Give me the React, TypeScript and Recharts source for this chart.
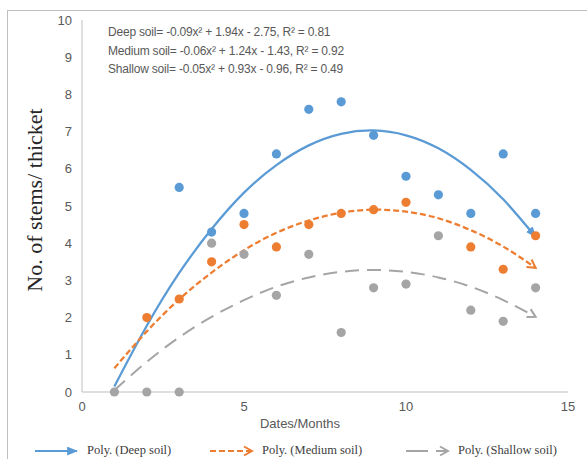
import { ComposedChart, Scatter, Line, XAxis, YAxis } from "recharts";

const months = [1, 2, 3, 4, 5, 6, 7, 8, 9, 10, 11, 12, 13, 14];

// observed stems per thicket
const deepX = [3, 4, 5, 6, 7, 8, 9, 10, 11, 12, 13, 14];
const deepSoil = [5.5, 4.3, 4.8, 6.4, 7.6, 7.8, 6.9, 5.8, 5.3, 4.8, 6.4, 4.8];
const mediumX = [2, 3, 4, 5, 6, 7, 8, 9, 10, 12, 13, 14];
const mediumSoil = [2.0, 2.5, 3.5, 4.5, 3.9, 4.5, 4.8, 4.9, 5.1, 3.9, 3.3, 4.2];
const shallowX = [1, 2, 3, 4, 5, 6, 7, 8, 9, 10, 11, 12, 13, 14];
const shallowSoil = [0, 0, 0, 4.0, 3.7, 2.6, 3.7, 1.6, 2.8, 2.9, 4.2, 2.2, 1.9, 2.8];

// trendline heights at each month
const deepTrend = [0.15, 1.78, 3.2, 4.38, 5.36, 6.1, 6.63, 6.94, 7.03, 6.9, 6.55, 5.97, 5.18, 4.17];
const mediumTrend = [0.64, 1.63, 2.49, 3.21, 3.81, 4.28, 4.61, 4.82, 4.9, 4.85, 4.67, 4.35, 3.91, 3.34];
const shallowTrend = [0.05, 0.81, 1.47, 2.02, 2.47, 2.83, 3.08, 3.23, 3.28, 3.23, 3.08, 2.83, 2.47, 2.02];

const xTicks = [0, 5, 10, 15];
const yTicks = [0, 1, 2, 3, 4, 5, 6, 7, 8, 9, 10];

const equations = [
  "Deep soil= -0.09x\u00b2 + 1.94x - 2.75, R\u00b2 = 0.81",
  "Medium soil= -0.06x\u00b2 + 1.24x - 1.43, R\u00b2 = 0.92",
  "Shallow soil= -0.05x\u00b2 + 0.93x - 0.96, R\u00b2 = 0.49",
];

const BLUE = "#5B9BD5";
const ORANGE = "#ED7D31";
const GRAY = "#A5A5A5";

const trendData = months.map((x, i) => ({
  x,
  deep: deepTrend[i],
  medium: mediumTrend[i],
  shallow: shallowTrend[i],
}));
const deepPts = deepX.map((x, i) => ({ x, y: deepSoil[i] }));
const mediumPts = mediumX.map((x, i) => ({ x, y: mediumSoil[i] }));
const shallowPts = shallowX.map((x, i) => ({ x, y: shallowSoil[i] }));

const dotShape = (color: string) => (p: any) =>
  <circle cx={p.cx} cy={p.cy} r={4.6} fill={color} />;

const tickStyle = { fill: "#595959", fontSize: 13, fontFamily: "Liberation Sans, sans-serif" };

function Markers() {
  return (
    <defs>
      <marker id="arrBlue" viewBox="0 0 10 8" refX="9" refY="4" markerWidth="11" markerHeight="9" markerUnits="userSpaceOnUse" orient="auto">
        <path d="M0,0 L10,4 L0,8 z" fill={BLUE} />
      </marker>
      <marker id="arrOrange" viewBox="0 0 12 12" refX="10" refY="6" markerWidth="12" markerHeight="12" markerUnits="userSpaceOnUse" orient="auto">
        <path d="M2,1.5 L10,6 L2,10.5" fill="none" stroke={ORANGE} strokeWidth={2} />
      </marker>
      <marker id="arrGray" viewBox="0 0 12 12" refX="10" refY="6" markerWidth="12" markerHeight="12" markerUnits="userSpaceOnUse" orient="auto">
        <path d="M2,1.5 L10,6 L2,10.5" fill="none" stroke={GRAY} strokeWidth={2} />
      </marker>
    </defs>
  );
}

function LegendItem({ left, color, dash, marker, label }: any) {
  return (
    <div style={{ position: "absolute", left, top: 443, display: "flex", alignItems: "center", whiteSpace: "nowrap" }}>
      <svg width={48} height={14}>
        <Markers />
        <line x1={2} y1={7} x2={44} y2={7} stroke={color} strokeWidth={2} strokeDasharray={dash} markerEnd={`url(#${marker})`} />
      </svg>
      <span style={{ marginLeft: 6, fontFamily: "Liberation Serif, serif", fontSize: 12.5, color: "#404040" }}>{label}</span>
    </div>
  );
}

export default function App() {
  return (
    <div style={{ position: "absolute", left: 0, top: 0, width: 587, height: 459, overflow: "hidden", background: "#fff" }}>
      <ComposedChart width={587} height={459} margin={{ top: 20, right: 19, bottom: 37, left: 0 }}>
        <Markers />
        <XAxis
          type="number"
          dataKey="x"
          domain={[0, 15]}
          ticks={xTicks}
          height={30}
          tick={tickStyle}
          tickLine={false}
          tickSize={8}
          axisLine={{ stroke: "#BFBFBF" }}
        />
        <YAxis
          type="number"
          dataKey="y"
          domain={[0, 10]}
          ticks={yTicks}
          width={82}
          tick={tickStyle}
          tickLine={false}
          tickSize={8}
          axisLine={{ stroke: "#BFBFBF" }}
        />
        <Scatter data={deepPts} dataKey="y" shape={dotShape(BLUE)} isAnimationActive={false} />
        <Scatter data={mediumPts} dataKey="y" shape={dotShape(ORANGE)} isAnimationActive={false} />
        <Scatter data={shallowPts} dataKey="y" shape={dotShape(GRAY)} isAnimationActive={false} />
        <Line data={trendData} dataKey="deep" type="natural" stroke={BLUE} strokeWidth={2.25} dot={false} markerEnd="url(#arrBlue)" isAnimationActive={false} />
        <Line data={trendData} dataKey="medium" type="natural" stroke={ORANGE} strokeWidth={2.25} strokeDasharray="6 3" dot={false} markerEnd="url(#arrOrange)" isAnimationActive={false} />
        <Line data={trendData} dataKey="shallow" type="natural" stroke={GRAY} strokeWidth={2} strokeDasharray="14 8" dot={false} markerEnd="url(#arrGray)" isAnimationActive={false} />
      </ComposedChart>
      <div style={{ position: "absolute", left: 7, top: 10, width: 620, height: 500, border: "1px solid #BFBFBF", pointerEvents: "none" }} />
      {equations.map((t, i) => (
        <div key={t} style={{ position: "absolute", left: 108, top: 25 + i * 18.5, fontFamily: "Liberation Sans, sans-serif", fontSize: 12, letterSpacing: -0.2, color: "#595959", whiteSpace: "nowrap" }}>
          {t}
        </div>
      ))}
      <div style={{ position: "absolute", left: 35, top: 200, transform: "translate(-50%, -50%) rotate(-90deg)", fontFamily: "Liberation Serif, serif", fontSize: 22, color: "#262626", whiteSpace: "nowrap" }}>
        No. of stems/ thicket
      </div>
      <div style={{ position: "absolute", left: 300, top: 416, transform: "translateX(-50%)", fontFamily: "Liberation Sans, sans-serif", fontSize: 13, color: "#595959", whiteSpace: "nowrap" }}>
        Dates/Months
      </div>
      <LegendItem left={33} color={BLUE} marker="arrBlue" label="Poly. (Deep soil)" />
      <LegendItem left={208} color={ORANGE} dash="6 3" marker="arrOrange" label="Poly. (Medium soil)" />
      <LegendItem left={404} color={GRAY} dash="22 8" marker="arrGray" label="Poly. (Shallow soil)" />
    </div>
  );
}
